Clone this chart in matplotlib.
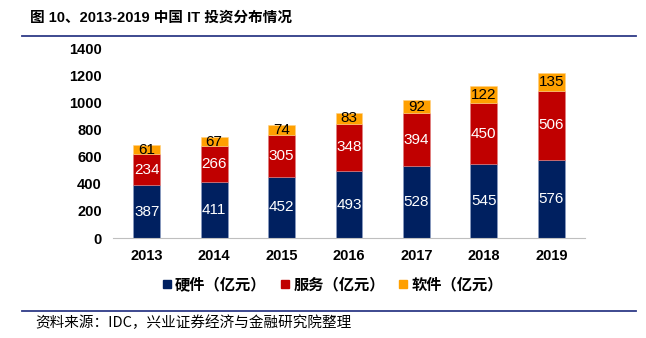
import numpy as np
import matplotlib
matplotlib.use("Agg")
import matplotlib.pyplot as plt
from matplotlib.lines import Line2D

plt.rcParams['font.family'] = ['Liberation Sans', 'Noto Sans CJK SC', 'DejaVu Sans']

# ==========================
# DATA
# ==========================
years = ["2013", "2014", "2015", "2016", "2017", "2018", "2019"]
hardware = [387, 411, 452, 493, 528, 545, 576]
services = [234, 266, 305, 348, 394, 450, 506]
software = [61, 67, 74, 83, 92, 122, 135]
series_names = ["硬件（亿元）", "服务（亿元）", "软件（亿元）"]

NAVY = "#002060"
RED = "#C00000"
ORANGE = "#FFA000"
LINE_COLOR = "#2E3A87"

W, H = 646, 338
fig = plt.figure(figsize=(W / 100, H / 100), dpi=100)

# axes in pixel coords
left, right, top, bottom = 113, 585, 48, 238
ax = fig.add_axes([left / W, 1 - bottom / H, (right - left) / W, (bottom - top) / H])

x = np.arange(len(years))
bw = 0.4
hw = np.array(hardware)
sv = np.array(services)
sw = np.array(software)

ax.bar(x, hw, bw, color=NAVY, edgecolor="#8FA0C8", linewidth=0.4)
ax.bar(x, sv, bw, bottom=hw, color=RED, edgecolor="#E08080", linewidth=0.4)
ax.bar(x, sw, bw, bottom=hw + sv, color=ORANGE, edgecolor="#FFD080", linewidth=0.4)

LBL = 11
for i in range(len(years)):
    ax.text(x[i], hw[i] / 2, str(hw[i]), ha="center", va="center",
            color="white", fontsize=LBL)
    ax.text(x[i], hw[i] + sv[i] / 2, str(sv[i]), ha="center", va="center",
            color="white", fontsize=LBL)
    ax.text(x[i], hw[i] + sv[i] + sw[i] / 2, str(sw[i]), ha="center", va="center",
            color="black", fontsize=LBL)

ax.set_xlim(-0.5, len(years) - 0.5)
ax.set_ylim(0, 1400)
ax.set_yticks(range(0, 1401, 200))
ax.set_xticks(x)
ax.set_xticklabels(years)
ax.tick_params(axis="both", length=0, labelsize=10.5, pad=8)
for lab in ax.get_xticklabels() + ax.get_yticklabels():
    lab.set_fontweight("bold")
for s in ["top", "right", "left"]:
    ax.spines[s].set_visible(False)
ax.spines["bottom"].set_color("#BFBFBF")

# legend
handles = [Line2D([0], [0], marker="s", linestyle="", markersize=5.5, color=c)
           for c in [NAVY, RED, ORANGE]]
fig.legend(handles, series_names, loc="center", bbox_to_anchor=(331 / W, 1 - 284 / H),
           ncol=3, frameon=False, handletextpad=0.05, columnspacing=0.7, handlelength=1.0,
           prop={"family": ["Noto Sans CJK SC"], "weight": "bold", "size": 11})

# title and rules
fig.text(30 / W, 1 - 18 / H, "图 10、2013-2019 中国 IT 投资分布情况",
         fontsize=10.5, fontweight="bold", ha="left", va="center",
         family=["Liberation Sans", "Noto Sans CJK SC"])
fig.add_artist(Line2D([22 / W, 636 / W], [1 - 36 / H] * 2, color=LINE_COLOR, linewidth=1.3))
fig.add_artist(Line2D([22 / W, 636 / W], [1 - 311 / H] * 2, color=LINE_COLOR, linewidth=1.3))
fig.text(35 / W, 1 - 323 / H, "资料来源：IDC，兴业证券经济与金融研究院整理",
         fontsize=10.5, ha="left", va="center", family=["Noto Sans CJK SC"])

fig.savefig("out.png", dpi=100)
